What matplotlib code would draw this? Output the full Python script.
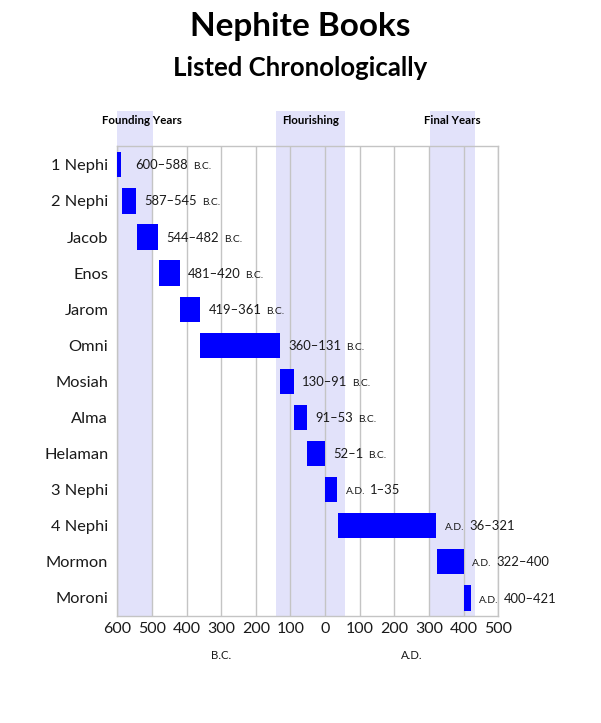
"""Nephite books listed chronologically, as a timeline of horizontal bars."""

import matplotlib

matplotlib.use("Agg")
import matplotlib.pyplot as plt

plt.rcParams["font.family"] = ["Lato", "DejaVu Sans"]

# years: negative = B.C., positive = A.D.
BOOKS = ["1 Nephi", "2 Nephi", "Jacob", "Enos", "Jarom", "Omni", "Mosiah",
         "Alma", "Helaman", "3 Nephi", "4 Nephi", "Mormon", "Moroni"]
START = [-600, -587, -544, -481, -419, -360, -130, -91, -52, 1, 36, 322, 400]
END = [-588, -545, -482, -420, -361, -131, -91, -53, -1, 35, 321, 400, 421]

ERAS = ["Founding Years", "Flourishing", "Final Years"]
ERA_START = [-600, -143, 302]
ERA_END = [-497, 57, 432]

X_TICKS = [-600, -500, -400, -300, -200, -100, 0, 100, 200, 300, 400, 500]

BAR_COLOR = "#0000ff"
SHADE_COLOR = "#e2e2fa"
GRID_COLOR = "#c4c4c4"
TEXT_COLOR = "#1a1a1a"


def main() -> None:
    fig = plt.figure(figsize=(6.01, 7.23), dpi=100)
    ax = fig.add_axes([0.1952, 0.148, 0.6339, 0.6505])

    rows = list(range(len(BOOKS)))
    widths = [e - s for s, e in zip(START, END)]
    ax.barh(rows, widths, left=START, height=0.7, color=BAR_COLOR, zorder=3)

    for name, x0, x1 in zip(ERAS, ERA_START, ERA_END):
        ax.axvspan(x0, x1, ymin=0, ymax=1.074, color=SHADE_COLOR, lw=0,
                   zorder=0, clip_on=False)
        cx = (x0 + x1) / 2 if x0 > -600 else x0 + 70
        ax.text(cx, 1.053, name, transform=ax.get_xaxis_transform(),
                ha="center", va="center", fontsize=8.3, fontweight="bold")

    for x in X_TICKS:
        ax.axvline(x, color=GRID_COLOR, lw=1, zorder=1)

    # labels: number plus small-caps era marker
    for row, s, e in zip(rows, START, END):
        pad = 10 if row == 0 else 6
        if e <= 0:
            first = ax.annotate(f"{-s}\u2013{-e}", xy=(e, row),
                                xytext=(pad, -3.3), textcoords="offset points",
                                ha="left", va="baseline", fontsize=9.4,
                                color=TEXT_COLOR, zorder=4)
            ax.annotate("B.C.", xy=(1, 0), xycoords=first, xytext=(3.5, 0),
                        textcoords="offset points", ha="left", va="bottom",
                        fontsize=7.4, color=TEXT_COLOR)
        else:
            first = ax.annotate("A.D.", xy=(e, row), xytext=(pad, -3.3),
                                textcoords="offset points", ha="left",
                                va="baseline", fontsize=7.4, color=TEXT_COLOR)
            ax.annotate(f"{s}\u2013{e}", xy=(1, 0), xycoords=first,
                        xytext=(3.5, 0), textcoords="offset points",
                        ha="left", va="bottom", fontsize=9.4, color=TEXT_COLOR)

    ax.set_xlim(-600, 500)
    ax.set_ylim(len(BOOKS) - 0.5, -0.53)
    ax.set_xticks(X_TICKS)
    ax.set_xticklabels([str(abs(x)) for x in X_TICKS], fontsize=11.5,
                       color=TEXT_COLOR)
    ax.set_yticks(rows)
    ax.set_yticklabels(BOOKS, fontsize=11.8, color=TEXT_COLOR)
    ax.tick_params(axis="both", length=0)
    ax.tick_params(axis="x", pad=4)
    ax.tick_params(axis="y", pad=6.5)
    for spine in ax.spines.values():
        spine.set_color(GRID_COLOR)
        spine.set_linewidth(1)
        spine.set_zorder(2)

    ax.text(-300, -0.083, "B.C.", transform=ax.get_xaxis_transform(),
            ha="center", va="center", fontsize=8.2, color=TEXT_COLOR)
    ax.text(250, -0.083, "A.D.", transform=ax.get_xaxis_transform(),
            ha="center", va="center", fontsize=8.2, color=TEXT_COLOR)

    fig.text(0.5, 0.9627, "Nephite Books", ha="center", va="center",
             fontsize=24, fontweight="bold")
    fig.text(0.5, 0.906, "Listed Chronologically", ha="center", va="center",
             fontsize=18.5, fontweight="bold")

    fig.savefig("out.png", dpi=100, facecolor="white")


if __name__ == "__main__":
    main()
